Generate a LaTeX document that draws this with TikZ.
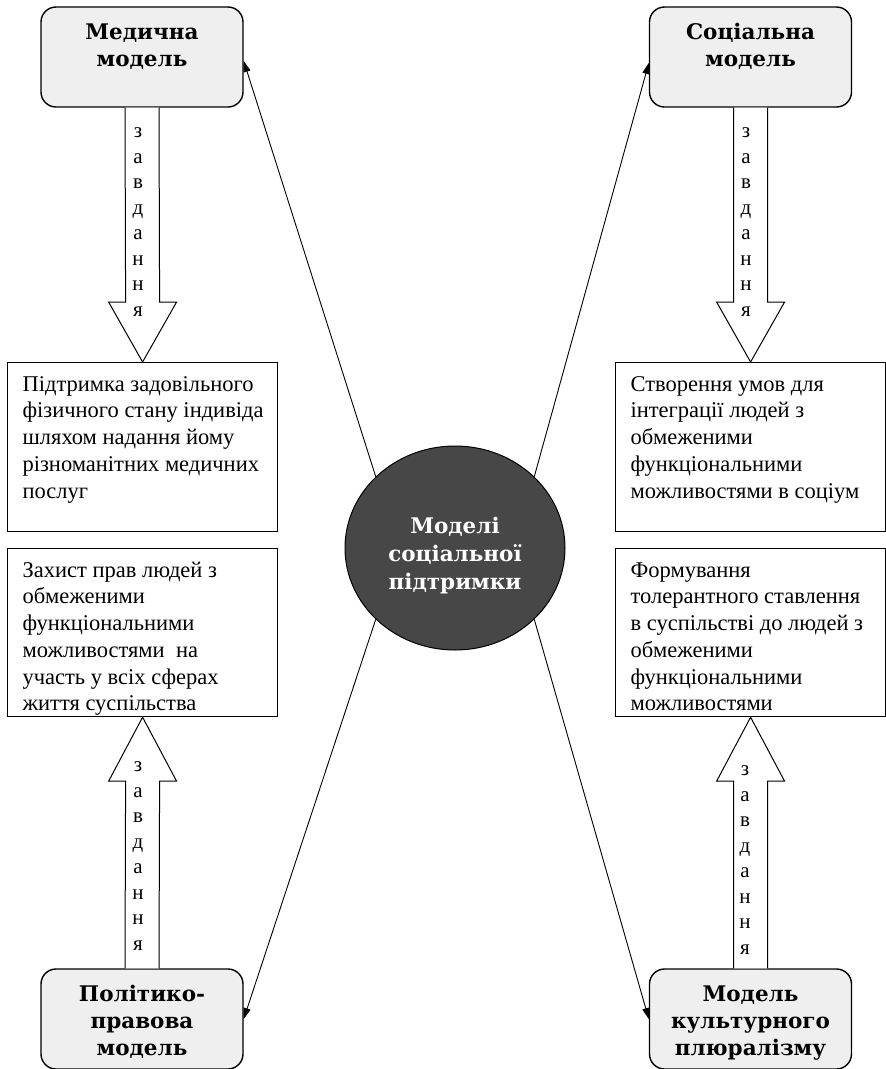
\documentclass[tikz,border=0pt]{standalone}
\usepackage{fontspec}
\setmainfont{Liberation Serif}
\newfontfamily\headfont{DejaVu Serif}
\usetikzlibrary{arrows.meta}
\usetikzlibrary{calc}
\usetikzlibrary{positioning}
\usetikzlibrary{shapes.geometric}

\definecolor{boxgray}{HTML}{EFEFEF}
\definecolor{hubgray}{HTML}{474747}

\newcommand{\infotext}[2]{\parbox[c][#1][t]{240pt}{\begin{tabular}[t]{@{}l@{}}#2\end{tabular}}}
\newcommand{\taskword}{з\\а\\в\\д\\а\\н\\н\\я}

\tikzset{
  modelbox/.style={draw, line width=1.4pt, rounded corners=15pt, fill=boxgray, minimum width=202pt, minimum height=100pt, inner sep=0pt},
  headtext/.style={font=\headfont\bfseries\fontsize{21.5}{27}\selectfont, align=center, inner sep=0pt, anchor=north},
  infobox/.style={draw, line width=1.2pt, anchor=north west, inner xsep=15pt, inner ysep=10pt, font=\fontsize{22.5}{26.7}\selectfont},
  hub/.style={ellipse, draw, line width=1pt, fill=hubgray, minimum width=220pt, minimum height=204pt},
  hubtext/.style={text=white, align=center, inner sep=0pt, font=\headfont\bfseries\fontsize{21.5}{28}\selectfont},
  link/.style={-{Triangle[length=11pt,width=7pt]}, line width=0.9pt},
  blockarrow/.style={draw, fill=white, line width=1pt},
  vlabel/.style={align=center, inner sep=0pt, font=\fontsize{21}{25.5}\selectfont}
}

\begin{document}
\begin{tikzpicture}[x=1pt,y=-1pt]

\useasboundingbox (0,0) rectangle (886,1069);

% models
\node [modelbox] (med) at (142,57) {};
\node [headtext, below=17pt of med.north] (medt) {Медична\\модель};

\node [modelbox] (soc) at (750.5,57) {};
\node [headtext, below=17pt of soc.north] (soct) {Соціальна\\модель};

\node [modelbox] (pol) at (142,1019) {};
\node [headtext, below=17pt of pol.north] (polt) {Політико-\\правова\\модель};

\node [modelbox] (kult) at (750.5,1019) {};
\node [headtext, below=17pt of kult.north] (kultt) {Модель\\культурного\\плюралізму};

% tasks
\node [infobox] (t1) at (7,362) {\infotext{149pt}{Підтримка задовільного\\фізичного стану індивіда\\шляхом надання йому\\різноманітних медичних\\послуг}};
\node [infobox] (t2) at (615,362) {\infotext{149pt}{Створення умов для\\інтеграції людей з\\обмеженими\\функціональними\\можливостями в соціум}};
\node [infobox] (t3) at (7,548) {\infotext{148pt}{Захист прав людей з\\обмеженими\\функціональними\\можливостями\ \ на\\участь у всіх сферах\\життя суспільства}};
\node [infobox] (t4) at (615,548) {\infotext{148pt}{Формування\\толерантного ставлення\\в суспільстві до людей з\\обмеженими\\функціональними\\можливостями}};

% centre
\node [hub] (hub) at (455,548) {};
\node [hubtext] (hubt) at (455,556) {Моделі\\соціальної\\підтримки};

\draw[link] (hub.138) -- ([yshift=-4pt]med.east);
\draw[link] (hub.42) -- ([yshift=-6pt]soc.west);
\draw[link] (hub.222) -- (pol.east);
\draw[link] (hub.318) -- (kult.west);

% 1
\draw[blockarrow] ($(med.south)+(-17,0)$) -- ($(t1.north)+(-17,-60)$) -- ++(-17,0) -- (t1.north) -- ++(34,-60) -- ++(-17,0) -- ($(med.south)+(17,0)$);
\node [vlabel] (z1) at (138,222) {\taskword};

% 2
\draw[blockarrow] ($(soc.south)+(-17,0)$) -- ($(t2.north)+(-17,-60)$) -- ++(-17,0) -- (t2.north) -- ++(34,-60) -- ++(-17,0) -- ($(soc.south)+(17,0)$);
\node [vlabel] (z2) at (746,222) {\taskword};

% 3
\draw[blockarrow] ($(pol.north)+(-17,0)$) -- ($(t3.south)+(-17,64)$) -- ++(-17,0) -- (t3.south) -- ++(34,64) -- ++(-17,0) -- ($(pol.north)+(17,0)$);
\node [vlabel] (z3) at (138,856) {\taskword};

% 4
\draw[blockarrow] ($(kult.north)+(-17,0)$) -- ($(t4.south)+(-17,64)$) -- ++(-17,0) -- (t4.south) -- ++(34,64) -- ++(-17,0) -- ($(kult.north)+(17,0)$);
\node [vlabel] (z4) at (745,860) {\taskword};

\end{tikzpicture}
\end{document}
